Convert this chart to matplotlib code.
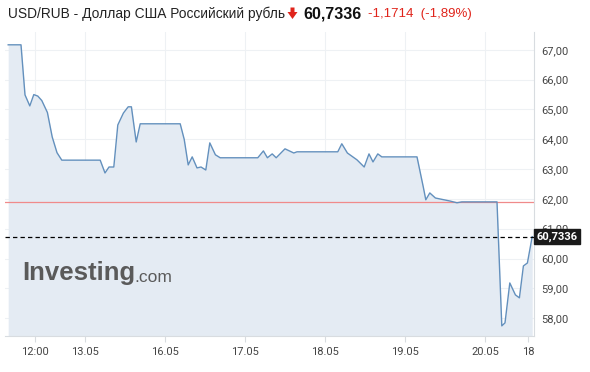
import matplotlib
matplotlib.use("Agg")
import matplotlib.pyplot as plt
from matplotlib.patches import Polygon

# ---- data (x in trading-day units from chart start, y = USD/RUB rate) ----
t = [0.04, 0.20, 0.25, 0.31, 0.36, 0.41, 0.46, 0.53, 0.59, 0.65, 0.71,
     1.19, 1.25, 1.30, 1.36, 1.41, 1.48, 1.54, 1.58, 1.64, 1.69,
     2.19, 2.24, 2.29, 2.34, 2.40, 2.45, 2.51, 2.56, 2.63, 2.69,
     3.16, 3.23, 3.28, 3.34, 3.39, 3.50, 3.61, 3.65,
     4.16, 4.21, 4.28, 4.40, 4.49, 4.55, 4.60, 4.66, 4.71,
     5.15, 5.23, 5.26, 5.31, 5.38, 5.56, 5.65, 5.71,
     6.15, 6.21, 6.25, 6.31, 6.38, 6.43, 6.48, 6.53, 6.59]
rate = [67.17, 67.17, 65.49, 65.12, 65.50, 65.45, 65.30, 64.90, 64.08, 63.55, 63.30,
        63.30, 62.87, 63.07, 63.07, 64.48, 64.88, 65.09, 65.09, 63.91, 64.52,
        64.52, 64.00, 63.14, 63.41, 63.04, 63.07, 62.97, 63.88, 63.48, 63.38,
        63.38, 63.61, 63.38, 63.51, 63.38, 63.68, 63.54, 63.58,
        63.58, 63.85, 63.54, 63.31, 63.07, 63.51, 63.24, 63.51, 63.41,
        63.41, 62.38, 61.97, 62.20, 62.03, 61.93, 61.87, 61.90,
        61.90, 57.74, 57.84, 59.18, 58.78, 58.68, 59.75, 59.85, 60.7336]
prev_close = 61.905
last_price = 60.7336

xtick_pos = [0.375, 1, 2, 3, 4, 5, 6, 6.54]
xtick_labels = ["12:00", "13.05", "16.05", "17.05", "18.05", "19.05", "20.05", "18"]
ytick_vals = [58, 59, 60, 61, 62, 63, 64, 65, 66, 67]

title_main = "USD/RUB - Доллар США Российский рубль"
title_price = "60,7336"
title_change = "-1,1714  (-1,89%)"

# ---- figure ----
W, H = 590, 372
fig = plt.figure(figsize=(W / 100, H / 100), dpi=100)
fig.patch.set_facecolor("white")

ax_l, ax_r, ax_t, ax_b = 5, 534, 32, 336
ax = fig.add_axes([ax_l / W, (H - ax_b) / H, (ax_r - ax_l) / W, (ax_b - ax_t) / H])
ax.set_facecolor("white")
ax.set_xlim(0, (ax_r - ax_l) / 80)
ax.set_ylim(57.40, 67.60)

grid_c = "#eef1f4"
for v in ytick_vals:
    ax.axhline(v, color=grid_c, lw=0.8, zorder=0)
for p in xtick_pos[:-1]:
    ax.axvline(p, color=grid_c, lw=0.8, zorder=0)

ax.fill_between(t, rate, 57.40, color="#e4ebf3", zorder=1, lw=0)
ax.plot(t, rate, color="#6390bd", lw=1.0, zorder=3)

ax.axhline(prev_close, color="#f08a8a", lw=0.9, zorder=2)
ax.axhline(last_price, color="black", lw=0.9, ls=(0, (3.5, 2.5)), zorder=4, clip_on=False)

for s in ["top", "left"]:
    ax.spines[s].set_visible(False)
ax.spines["bottom"].set_color("#d8dce0")
ax.spines["right"].set_color("#d8dce0")
ax.spines["bottom"].set_linewidth(0.8)
ax.spines["right"].set_linewidth(0.8)

ax.yaxis.tick_right()
ax.set_yticks(ytick_vals)
ax.set_yticklabels([f"{v:.2f}".replace(".", ",") for v in ytick_vals],
                   fontsize=8, color="#444444", family="Roboto")
ax.tick_params(axis="y", length=0, pad=5)
ax.set_xticks(xtick_pos)
ax.set_xticklabels(xtick_labels, fontsize=8, color="#444444", family="Roboto")
ax.tick_params(axis="x", length=4, color="#d8dce0", pad=4)

# last price box
ax.text(1.005, last_price, title_price, transform=ax.get_yaxis_transform(),
        ha="left", va="center", fontsize=8, fontweight="bold", color="white",
        family="Roboto", zorder=10,
        bbox=dict(boxstyle="square,pad=0.2", fc="#1a1a1a", ec="#1a1a1a"))

# watermark
fig.text(22 / W, 1 - 273 / H, "Investing", fontsize=18.5, fontweight="bold",
         color="#5a5a5a", family="Liberation Sans", va="center", ha="left")
fig.text(134.5 / W, 1 - 277 / H, ".com", fontsize=12.5, color="#5a5a5a",
         family="Liberation Sans", va="center", ha="left")

# title
fig.text(8 / W, 1 - 14 / H, title_main, fontsize=9.9, color="#222222",
         family="Liberation Sans", va="center", ha="left")
ax_arrow = fig.add_axes([0, 0, 1, 1], facecolor="none")
ax_arrow.set_axis_off()
ax_arrow.set_xlim(0, W)
ax_arrow.set_ylim(H, 0)
ax_arrow.add_patch(Polygon([[290.5, 7.5], [294.5, 7.5], [294.5, 12], [297.5, 12],
                            [292.5, 19], [287.5, 12], [290.5, 12]],
                           closed=True, fc="#e0241b", ec="none"))
fig.text(303 / W, 1 - 14 / H, title_price, fontsize=11.5, fontweight="bold",
         color="#111111", family="Liberation Sans", va="center", ha="left")
fig.text(368 / W, 1 - 14 / H, title_change, fontsize=9.5,
         color="#e0241b", family="Liberation Sans", va="center", ha="left")

fig.savefig("out.png", dpi=100)
